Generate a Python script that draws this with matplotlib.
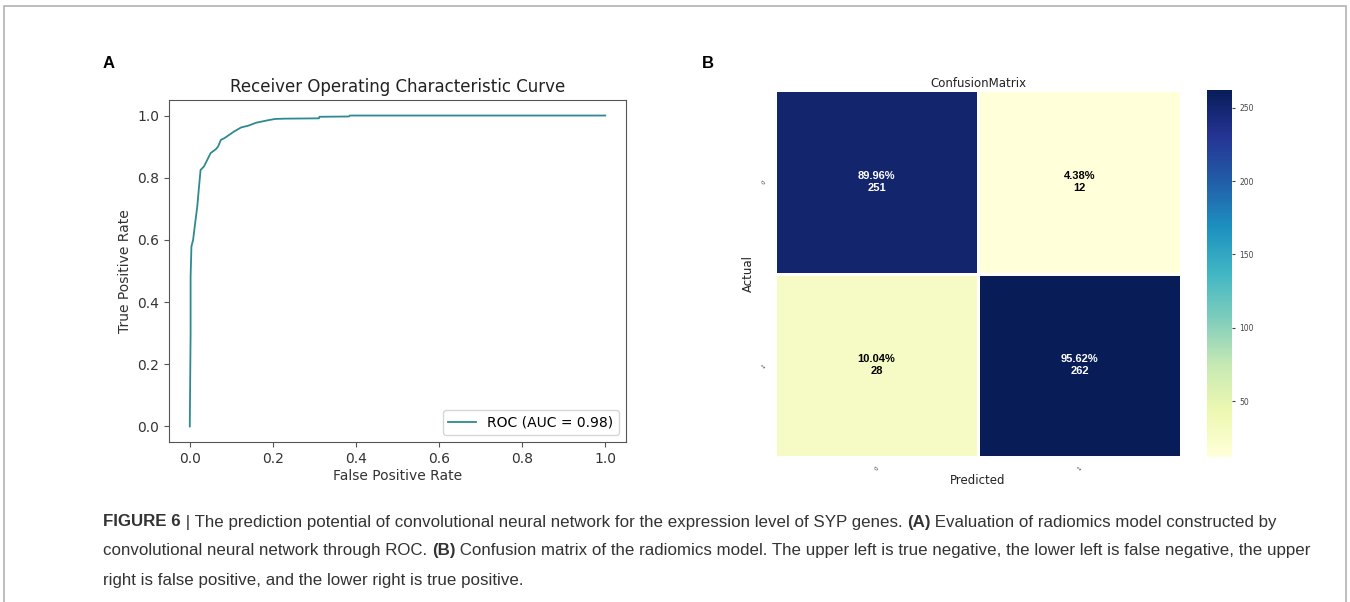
import numpy as np
import matplotlib
matplotlib.use("Agg")
import matplotlib.pyplot as plt
from matplotlib.patches import Rectangle

# ---------------- data ----------------
fpr = [0.0, 0.002, 0.002, 0.004, 0.008, 0.014, 0.018, 0.023, 0.026, 0.034, 0.042,
       0.050, 0.063, 0.068, 0.075, 0.083, 0.095, 0.107, 0.124, 0.140, 0.160,
       0.185, 0.205, 0.229, 0.311, 0.312, 0.383, 0.385, 1.0]
tpr = [0.0, 0.30, 0.482, 0.579, 0.600, 0.665, 0.707, 0.782, 0.825, 0.836, 0.857,
       0.879, 0.892, 0.900, 0.922, 0.927, 0.938, 0.949, 0.962, 0.967, 0.977,
       0.984, 0.989, 0.990, 0.991, 0.996, 0.997, 1.0, 1.0]
auc_value = 0.98

cm_counts = [[251, 12],
             [28, 262]]
cm_labels = ["0", "1"]
roc_xticks = [0.0, 0.2, 0.4, 0.6, 0.8, 1.0]
cbar_ticks = [50, 100, 150, 200, 250]

W, H = 1350, 602
fig = plt.figure(figsize=(W / 100, H / 100), dpi=100)

def ax_px(x0, y0, x1, y1):
    return [x0 / W, 1 - y1 / H, (x1 - x0) / W, (y1 - y0) / H]

# outer border
fig.patches.append(Rectangle((4 / W, -0.01), (1346 - 4) / W, 1 - 6 / H + 0.01,
                             transform=fig.transFigure, fill=False,
                             edgecolor="#b3b3b3", linewidth=1.2))

# panel labels
fig.text(103 / W, 1 - 63 / H, "A", fontsize=12, fontweight="bold",
         family="Liberation Sans", va="center", ha="left")
fig.text(702 / W, 1 - 63 / H, "B", fontsize=12, fontweight="bold",
         family="Liberation Sans", va="center", ha="left")

# ---------------- ROC ----------------
ax1 = fig.add_axes(ax_px(169, 100, 626, 442))
ax1.plot(fpr, tpr, color="#2e8a90", lw=1.3, label=f"ROC (AUC = {auc_value:.2f})")
ax1.set_title("Receiver Operating Characteristic Curve", fontsize=12, color="#222222")
ax1.set_xlabel("False Positive Rate", fontsize=10, color="#333333", labelpad=2)
ax1.set_ylabel("True Positive Rate", fontsize=10, color="#333333")
ax1.set_xticks(roc_xticks)
ax1.tick_params(labelsize=10, labelcolor="#333333", colors="#555555")
for s in ax1.spines.values():
    s.set_color("#555555")
ax1.legend(loc="lower right", fontsize=10)

# ---------------- Confusion matrix ----------------
cm = np.array(cm_counts)
col_sums = cm.sum(axis=0)
ax2 = fig.add_axes(ax_px(775, 90, 1181, 457))
cax = fig.add_axes(ax_px(1207, 90, 1232, 457))
vmin, vmax = cm.min(), cm.max()
im = ax2.pcolormesh(np.arange(3), np.arange(3), cm, cmap="YlGnBu", vmin=vmin, vmax=vmax,
                    edgecolors="white", linewidth=1)
ax2.set_xlim(0, 2)
ax2.set_ylim(2, 0)
for i in range(2):
    for j in range(2):
        v = cm[i, j]
        pct = v / col_sums[j] * 100
        norm = (v - vmin) / (vmax - vmin)
        col = "white" if norm > 0.5 else "black"
        ax2.text(j + 0.5, i + 0.5, f"{pct:.2f}%\n{v}", ha="center", va="center",
                 fontsize=8, fontweight="bold", color=col, family="Liberation Sans",
                 linespacing=1.25)
ax2.set_xticks([0.5, 1.5])
ax2.set_xticklabels(cm_labels, rotation=45, fontsize=4, color="#333333")
ax2.set_yticks([0.5, 1.5])
ax2.set_yticklabels(cm_labels, rotation=45, fontsize=4, color="#333333")
ax2.tick_params(length=0, pad=6)
for s in ax2.spines.values():
    s.set_visible(False)
ax2.set_title("ConfusionMatrix", fontsize=8.5, color="#222222", pad=2)
ax2.set_xlabel("Predicted", fontsize=8.5, color="#222222", labelpad=2)
ax2.set_ylabel("Actual", fontsize=8.5, color="#222222", labelpad=4)

cb = fig.colorbar(im, cax=cax, ticks=cbar_ticks)
cb.outline.set_visible(False)
cb.ax.tick_params(labelsize=5.5, length=2, colors="#444444")

# ---------------- caption ----------------
cap_font = "Liberation Sans"
cap_size = 12.2
cap_color = "#333333"
y1 = 1 - 522 / H
t = fig.text(103 / W, y1, "FIGURE 6", fontsize=cap_size, fontweight="bold",
             family=cap_font, color=cap_color, va="center")
fig.canvas.draw()
r = fig.canvas.get_renderer()
bb = t.get_window_extent(r)
x = bb.x1 / W
t2 = fig.text(x, y1, " | The prediction potential of convolutional neural network for the expression level of SYP genes. ",
              fontsize=cap_size, family=cap_font, color=cap_color, va="center")
bb = t2.get_window_extent(r); x = bb.x1 / W
t3 = fig.text(x, y1, "(A)", fontsize=cap_size, fontweight="bold", family=cap_font,
              color=cap_color, va="center")
bb = t3.get_window_extent(r); x = bb.x1 / W
fig.text(x, y1, " Evaluation of radiomics model constructed by",
         fontsize=cap_size, family=cap_font, color=cap_color, va="center")

y2 = 1 - 551 / H
t = fig.text(103 / W, y2, "convolutional neural network through ROC. ",
             fontsize=cap_size, family=cap_font, color=cap_color, va="center")
bb = t.get_window_extent(r); x = bb.x1 / W
t = fig.text(x, y2, "(B)", fontsize=cap_size, fontweight="bold", family=cap_font,
             color=cap_color, va="center")
bb = t.get_window_extent(r); x = bb.x1 / W
fig.text(x, y2, " Confusion matrix of the radiomics model. The upper left is true negative, the lower left is false negative, the upper",
         fontsize=cap_size, family=cap_font, color=cap_color, va="center")

y3 = 1 - 580 / H
fig.text(103 / W, y3, "right is false positive, and the lower right is true positive.",
         fontsize=cap_size, family=cap_font, color=cap_color, va="center")

fig.savefig("out.png", dpi=100)
